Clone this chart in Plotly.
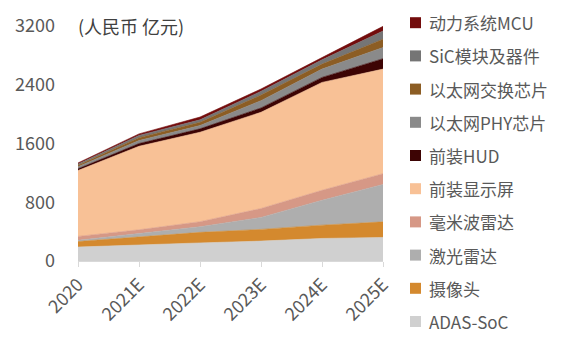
import plotly.graph_objects as go

# Years on the category axis
years = ["2020", "2021E", "2022E", "2023E", "2024E", "2025E"]

# Market size per segment, 亿元 (stacked bottom -> top)
adas_soc = [190, 222, 246, 271, 307, 321]
camera = [75, 103, 144, 159, 181, 212]
lidar = [17, 45, 76, 163, 339, 509]
mmwave_radar = [53, 55, 69, 122, 136, 147]
display = [897, 1137, 1218, 1310, 1469, 1424]
hud = [23, 38, 47, 59, 68, 142]
eth_phy = [30, 40, 44, 99, 113, 152]
eth_switch = [18, 40, 45, 77, 68, 113]
sic = [17, 30, 33, 50, 58, 112]
mcu = [15, 21, 38, 32, 31, 63]

y_ticks = [0, 800, 1600, 2400, 3200]

series = [
    ("ADAS-SoC", adas_soc, "#D0D0D0"),
    ("摄像头", camera, "#D4892E"),
    ("激光雷达", lidar, "#AEAEAE"),
    ("毫米波雷达", mmwave_radar, "#D69886"),
    ("前装显示屏", display, "#F8C196"),
    ("前装HUD", hud, "#3D0404"),
    ("以太网PHY芯片", eth_phy, "#8A8A8A"),
    ("以太网交换芯片", eth_switch, "#8C5D24"),
    ("SiC模块及器件", sic, "#757575"),
    ("动力系统MCU", mcu, "#730C0C"),
]

FONT = "Noto Sans CJK SC"
W, H = 577, 337
M_L, M_R, M_T, M_B = 78, 194, 26, 76
PLOT_W = W - M_L - M_R
PLOT_H = H - M_T - M_B
x = list(range(len(years)))

fig = go.Figure()

# stacked areas
for name, vals, color in series:
    fig.add_trace(go.Scatter(
        x=x, y=vals, name=name, stackgroup="one", mode="lines",
        line=dict(width=0.6, color=color), fillcolor=color,
        showlegend=False, hoverinfo="skip",
    ))


# legend column on the right: square swatch + label, top of stack first
def px_to_paper_x(px):
    return (px - M_L) / PLOT_W


def px_to_paper_y(py):
    return (H - M_B - py) / PLOT_H


shapes = []
annotations = []
row_top, row_step, sw = 22.7, 33.2, 11
for i, (name, vals, color) in enumerate(reversed(series)):
    cy = row_top + i * row_step
    shapes.append(dict(
        type="rect", xref="paper", yref="paper", layer="above",
        x0=px_to_paper_x(410), x1=px_to_paper_x(410 + sw),
        y0=px_to_paper_y(cy + sw / 2), y1=px_to_paper_y(cy - sw / 2),
        fillcolor=color, line=dict(width=0),
    ))
    annotations.append(dict(
        text=name, xref="paper", yref="paper",
        x=px_to_paper_x(427), y=px_to_paper_y(cy),
        xanchor="left", yanchor="middle", showarrow=False,
        font=dict(family=FONT, size=17, color="#595959"),
    ))

annotations.append(dict(
    text="(人民币 亿元)", xref="paper", yref="paper", x=0, y=1,
    xanchor="left", yanchor="middle", showarrow=False, xshift=-2,
    font=dict(family=FONT, size=18, color="#404040"),
))

fig.update_layout(
    width=W, height=H,
    margin=dict(l=M_L, r=M_R, t=M_T, b=M_B),
    paper_bgcolor="white", plot_bgcolor="white",
    font=dict(family=FONT, size=16, color="#595959"),
    showlegend=False,
    xaxis=dict(
        range=[0, 5], tickmode="array", tickvals=x, ticktext=years,
        tickangle=-45, ticks="outside", ticklen=5, tickcolor="#D9D9D9",
        showline=True, linecolor="#D9D9D9", showgrid=False, zeroline=False,
        tickfont=dict(size=18, color="#595959"), fixedrange=True,
    ),
    yaxis=dict(
        range=[0, 3200], tickmode="array", tickvals=y_ticks,
        showgrid=False, zeroline=False, showline=False,
        ticklabelstandoff=22, tickfont=dict(size=18, color="#595959"),
        fixedrange=True,
    ),
    shapes=shapes,
    annotations=annotations,
)

fig.write_html("out.html")
